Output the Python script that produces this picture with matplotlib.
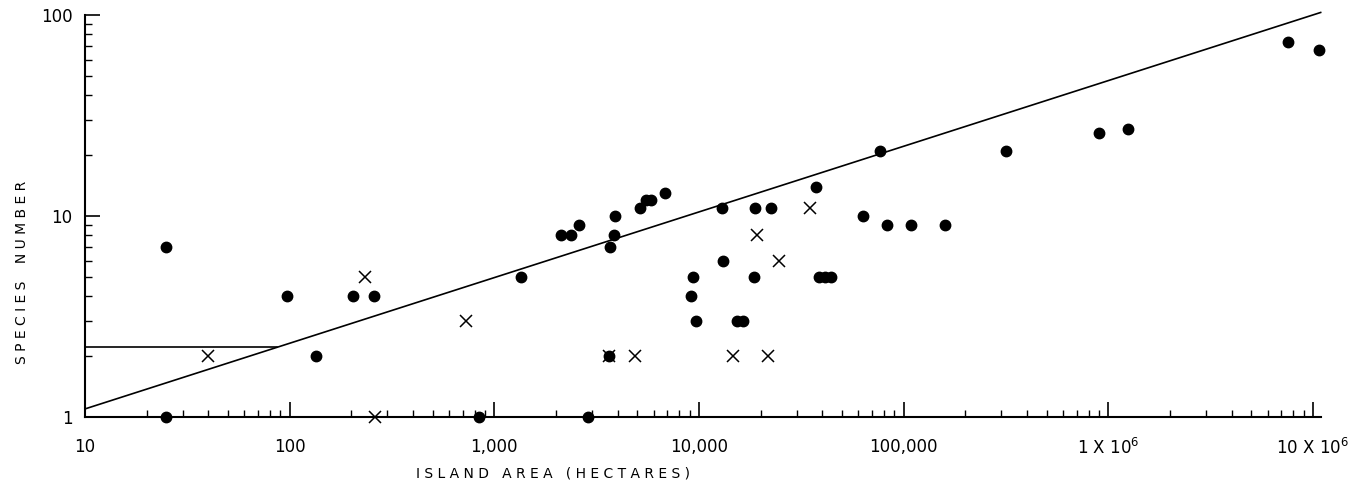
import matplotlib
matplotlib.use("Agg")
import matplotlib.pyplot as plt
import numpy as np
from matplotlib.ticker import LogLocator, FixedLocator, FixedFormatter, NullFormatter

# ---- data (island area in hectares, species number) ----
circle_area = [25, 25, 97, 134, 204, 258, 841, 1350, 2115, 2370, 2590, 2870,
               3670, 3840, 3880, 3630, 5140, 5500, 5820, 6800, 9340, 9130, 9660,
               12940, 13090, 15300, 16400, 18760, 18550, 22450, 37250, 38550,
               41240, 44100, 63200, 76500, 82800, 108400, 158900, 315600,
               899000, 1245000, 7530000, 10670000]
circle_species = [7, 1, 4, 2, 4, 4, 1, 5, 8, 8, 9, 1,
                  7, 8, 10, 2, 11, 12, 12, 13, 5, 4, 3,
                  11, 6, 3, 3, 11, 5, 11, 14, 5,
                  5, 5, 10, 21, 9, 9, 9, 21,
                  26, 27, 73, 67]
cross_area = [40, 233, 261, 727, 3630, 4865, 14650, 19190, 21720, 24560, 34830]
cross_species = [2, 5, 1, 3, 2, 2, 2, 8, 2, 6, 11]

# regression line S = c * A^z
fit_c = 0.517
fit_z = 0.3267
fit_range = [10, 1.09e7]
# short horizontal reference line
href_species = 2.22
href_range = [10, 87]

x_ticks = [10, 100, 1000, 10000, 100000, 1e6, 1e7]
x_ticklabels = ["10", "100", "1,000", "10,000", "100,000",
                r"1 X 10$^{6}$", r"10 X 10$^{6}$"]
y_ticks = [1, 10, 100]
y_ticklabels = ["1", "10", "100"]

fig = plt.figure(figsize=(13.58, 4.94), dpi=100)
ax = fig.add_axes([85 / 1358, 1 - 417 / 494, (1321 - 85) / 1358, (417 - 15) / 494])
ax.set_xscale("log")
ax.set_yscale("log")
ax.set_xlim(10, 1.094e7)
ax.set_ylim(1, 100)

fx = np.array(fit_range)
ax.plot(fx, fit_c * fx ** fit_z, color="black", lw=1.2, clip_on=False)
ax.plot(href_range, [href_species] * 2, color="black", lw=1.2)

ax.plot(circle_area, circle_species, "o", color="black", ms=7.5,
        clip_on=False, zorder=3)
ax.plot(cross_area, cross_species, "x", color="black", ms=8.5, mew=1.1,
        clip_on=False, zorder=3)

for s in ["top", "right"]:
    ax.spines[s].set_visible(False)
for s in ["left", "bottom"]:
    ax.spines[s].set_linewidth(1.5)

ax.xaxis.set_major_locator(FixedLocator(x_ticks))
ax.xaxis.set_major_formatter(FixedFormatter(x_ticklabels))
ax.xaxis.set_minor_locator(LogLocator(base=10, subs=np.arange(2, 10)))
ax.xaxis.set_minor_formatter(NullFormatter())
ax.yaxis.set_major_locator(FixedLocator(y_ticks))
ax.yaxis.set_major_formatter(FixedFormatter(y_ticklabels))
ax.yaxis.set_minor_locator(LogLocator(base=10, subs=np.arange(2, 10)))
ax.yaxis.set_minor_formatter(NullFormatter())

ax.tick_params(axis="both", which="major", direction="in", length=11,
               width=1.2, labelsize=12, pad=15)
ax.tick_params(axis="both", which="minor", direction="in", length=5, width=1)
ax.tick_params(axis="y", which="major", pad=9)

fig.text(553 / 1358, 1 - 473 / 494, "I S L A N D   A R E A   ( H E C T A R E S )",
         ha="center", va="center", fontsize=10)
fig.text(22 / 1358, 1 - 272 / 494, "S P E C I E S    N U M B E R",
         ha="center", va="center", rotation=90, fontsize=10)

fig.savefig("out.png", dpi=100, facecolor="white")
